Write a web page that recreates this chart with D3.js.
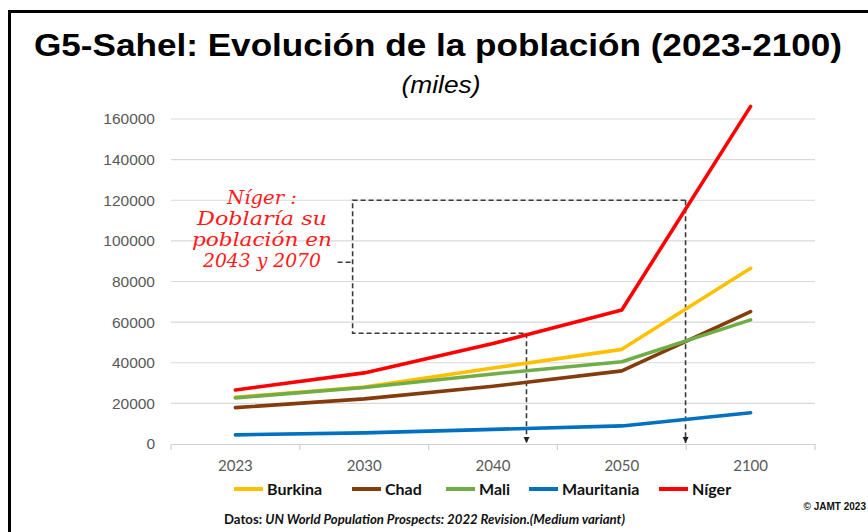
<!DOCTYPE html>
<html><head><meta charset="utf-8">
<script src="https://cdn.jsdelivr.net/npm/d3@7"></script>
<style>body{margin:0;background:#fff}svg{display:block}</style>
</head><body>
<svg id="c" width="868" height="532"></svg>
<script>
const categories = ["2023","2030","2040","2050","2100"];
const seriesNames = ["Burkina","Chad","Mali","Mauritania","Níger"];
const burkina = [23000, 28000, 37400, 46600, 86500];
const chad = [17900, 22200, 28400, 36000, 65200];
const mali = [22700, 27800, 34500, 40500, 61100];
const mauritania = [4500, 5500, 7200, 8900, 15400];
const niger = [26600, 35000, 49500, 66000, 166200];
const yTicks = [0,20000,40000,60000,80000,100000,120000,140000,160000];
const colors = ["#ffc000","#843c0c","#70ad47","#0070c0","#ff0000"];
const annLines = ["Níger :","Doblaría su","población en","2043 y 2070"];
// annotation: fractional category positions & values
const annBox = {xLeft:0.91, x2043:2.26, x2070:3.495, yTop:120000, yBottom:54500, labelY:90000};

const svg = d3.select("#c");
const L=171, R=815, T=119, B=444;
const band = d3.scaleBand().domain(categories).range([L,R]).paddingInner(0).paddingOuter(0);
const xc = i => band(categories[0]) + band.bandwidth()*(i+0.5);
const y = d3.scaleLinear().domain([0,160000]).range([B,T]);

// frame
svg.append("rect").attr("x",9.5).attr("y",11.5).attr("width",900).attr("height",600)
  .attr("fill","none").attr("stroke","#000").attr("stroke-width",3);

// title
svg.append("text").attr("x",438).attr("y",56).attr("text-anchor","middle")
  .attr("font-family","Liberation Sans, Arial, sans-serif").attr("font-weight","bold")
  .attr("font-size",32).attr("textLength",808).attr("lengthAdjust","spacingAndGlyphs")
  .attr("fill","#000").text("G5-Sahel: Evolución de la población (2023-2100)");
svg.append("text").attr("x",441).attr("y",93).attr("text-anchor","middle")
  .attr("font-family","Liberation Sans, Arial, sans-serif").attr("font-style","italic")
  .attr("font-size",24).attr("textLength",79).attr("lengthAdjust","spacingAndGlyphs")
  .attr("fill","#000").text("(miles)");

// grid
svg.append("g").selectAll("line").data(yTicks.filter(d=>d>0)).join("line")
  .attr("x1",L).attr("x2",R).attr("y1",d=>y(d)).attr("y2",d=>y(d))
  .attr("stroke","#d9d9d9").attr("stroke-width",1.2);

// y axis
const ya = svg.append("g").attr("transform",`translate(${L},0)`)
  .call(d3.axisLeft(y).tickValues(yTicks).tickSize(0).tickPadding(16).tickFormat(d=>String(d)));
ya.select(".domain").remove();
ya.selectAll("text").attr("font-family","Liberation Sans, Arial, sans-serif").attr("font-size",15.5).attr("fill","#595959");

// x axis
const xa = svg.append("g").attr("transform",`translate(0,${B})`)
  .call(d3.axisBottom(band).tickSize(0).tickPadding(16));
xa.select(".domain").attr("stroke","#d0d0d0").attr("stroke-width",1.2);
xa.selectAll("text").attr("font-family","Lato, sans-serif").attr("font-size",15).attr("fill","#595959");
svg.append("g").selectAll("line").data(d3.range(categories.length+1)).join("line")
  .attr("x1",i=>L+band.bandwidth()*i).attr("x2",i=>L+band.bandwidth()*i)
  .attr("y1",B).attr("y2",B+6).attr("stroke","#d0d0d0").attr("stroke-width",1.2);

// annotation dashed
const dash = {stroke:"#3a3a3a","stroke-width":1.6,"stroke-dasharray":"5,3",fill:"none"};
function dl(pts, arrow){
  const p = svg.append("path").attr("d", d3.line()(pts));
  Object.entries(dash).forEach(([k,v])=>p.attr(k,v));
  if(arrow){
    const [x,yy]=pts[pts.length-1];
    svg.append("path").attr("d",`M${x-3},${yy-6}L${x+3},${yy-6}L${x},${yy}Z`).attr("fill","#222");
  }
}
const xl = xc(annBox.xLeft), x43 = xc(annBox.x2043), x70 = xc(annBox.x2070);
dl([[x70,y(annBox.yTop)],[xl,y(annBox.yTop)],[xl,y(annBox.yBottom)],[x43,y(annBox.yBottom)]]);
dl([[x43,y(annBox.yBottom)],[x43,B-1]],true);
dl([[x70,y(annBox.yTop)],[x70,B-1]],true);
dl([[xl-15,y(annBox.labelY)+1],[xl,y(annBox.labelY)+1]]);

// lines
const series = [burkina,chad,mali,mauritania,niger];
const line = d3.line().x((d,i)=>xc(i)).y(d=>y(d));
svg.append("g").selectAll("path").data(series).join("path")
  .attr("d",d=>line(d)).attr("fill","none").attr("stroke",(d,i)=>colors[i])
  .attr("stroke-width",3.6).attr("stroke-linejoin","round").attr("stroke-linecap","round");

// annotation text
const annW = [70,130,140,118];
const at = svg.append("text").attr("text-anchor","middle")
  .attr("font-family","DejaVu Serif, serif").attr("font-style","italic")
  .attr("font-size",19).attr("fill","#ff1a1a");
annLines.forEach((s,i)=>at.append("tspan").attr("x",262).attr("y",204+i*21)
  .attr("textLength",annW[i]).attr("lengthAdjust","spacingAndGlyphs").text(s));

// legend
const legX = [234,352,446,529,659];
const lg = svg.append("g").selectAll("g").data(seriesNames).join("g")
  .attr("transform",(d,i)=>`translate(${legX[i]},489)`);
lg.append("line").attr("x1",0).attr("x2",29).attr("y1",0).attr("y2",0)
  .attr("stroke",(d,i)=>colors[i]).attr("stroke-width",4);
lg.append("text").attr("x",33).attr("y",6).text(d=>d)
  .attr("font-family","Lato, sans-serif").attr("font-weight","bold").attr("font-size",16).attr("fill","#111");

// footer
const ft = svg.append("text").attr("x",224).attr("y",524)
  .attr("font-family","Lato, sans-serif").attr("font-weight","bold").attr("font-size",13.2).attr("fill","#111");
ft.append("tspan").text("Datos: ");
ft.append("tspan").attr("font-style","italic").text("UN World Population Prospects: 2022 Revision.(Medium  variant)");
svg.append("text").attr("x",866).attr("y",510).attr("text-anchor","end")
  .attr("font-family","Liberation Sans, Arial, sans-serif").attr("font-weight","bold").attr("font-size",10).attr("fill","#111").text("© JAMT 2023");
</script>
</body></html>
